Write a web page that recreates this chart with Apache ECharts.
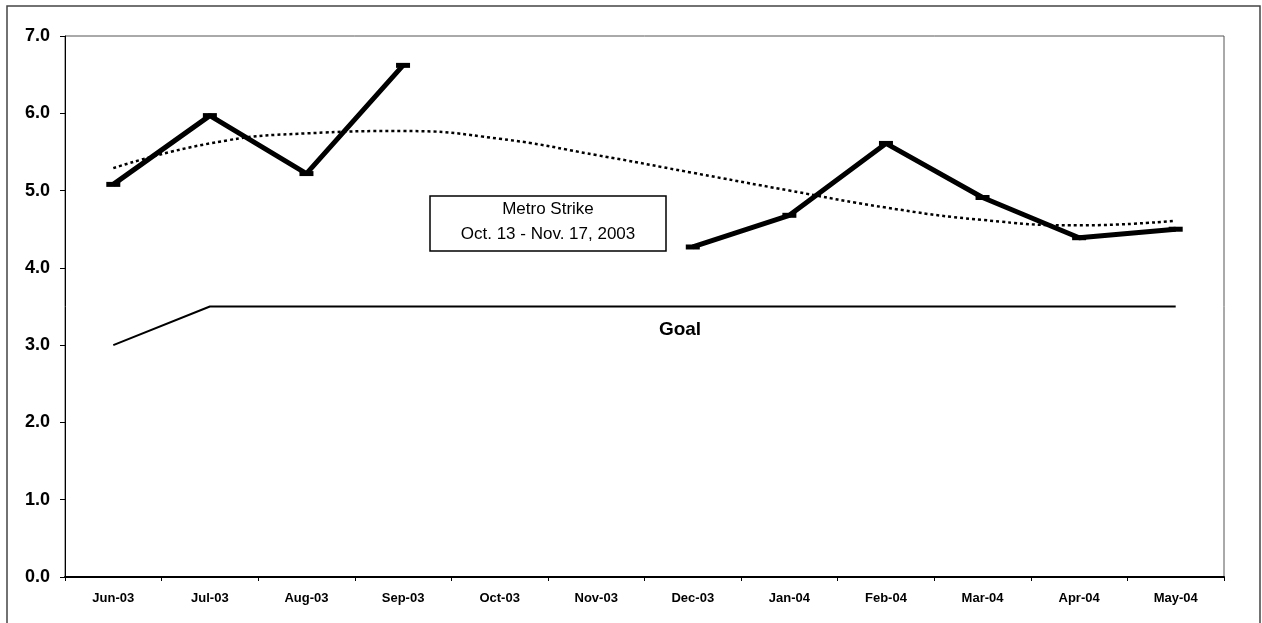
<!DOCTYPE html>
<html>
<head>
<meta charset="utf-8">
<script src="https://cdn.jsdelivr.net/npm/echarts@6/dist/echarts.min.js"></script>
<style>
html,body{margin:0;padding:0;background:#fff;}
#chart{width:1262px;height:623px;}
</style>
</head>
<body>
<div id="chart"></div>
<script>
var categories = ['Jun-03','Jul-03','Aug-03','Sep-03','Oct-03','Nov-03','Dec-03','Jan-04','Feb-04','Mar-04','Apr-04','May-04'];
var actual = [5.08, 5.97, 5.22, 6.62, null, null, 4.27, 4.68, 5.61, 4.91, 4.39, 4.50];
var goal = [3.0, 3.5, 3.5, 3.5, 3.5, 3.5, 3.5, 3.5, 3.5, 3.5, 3.5, 3.5];
var trend = [5.29, 5.61, 5.74, 5.77, 5.67, 5.46, 5.23, 5.00, 4.78, 4.62, 4.55, 4.61];
var yTicks = [0, 1, 2, 3, 4, 5, 6, 7];

var chart = echarts.init(document.getElementById('chart'), null, {renderer: 'canvas'});
chart.setOption({
  animation: false,
  backgroundColor: '#fff',
  grid: {left: 65, right: 38, top: 36, bottom: 46, show: true, borderColor: '#555', borderWidth: 1},
  xAxis: {
    type: 'category',
    data: categories,
    boundaryGap: true,
    axisLine: {lineStyle: {color: '#000', width: 2}},
    axisTick: {show: true, alignWithLabel: false, length: 4, lineStyle: {color: '#000'}},
    axisLabel: {color: '#000', fontFamily: '"Liberation Sans Narrow", "Arial Narrow", "Liberation Sans", sans-serif', fontWeight: 'bold', fontSize: 13, margin: 15}
  },
  yAxis: {
    type: 'value',
    min: yTicks[0], max: yTicks[yTicks.length - 1], interval: 1,
    axisLine: {show: true, lineStyle: {color: '#000', width: 1}},
    axisTick: {show: true, length: 5, lineStyle: {color: '#000'}},
    splitLine: {show: false},
    axisLabel: {color: '#000', fontFamily: '"Liberation Sans", Arial, sans-serif', fontWeight: 'bold', fontSize: 18, margin: 15,
      formatter: function (v) { return v.toFixed(1); }}
  },
  series: [
    {
      name: 'Goal', type: 'line', data: goal, symbol: 'none',
      lineStyle: {color: '#000', width: 2}, z: 2
    },
    {
      name: 'Trend', type: 'line', data: trend, symbol: 'none', smooth: true,
      lineStyle: {color: '#000', width: 2.5, type: [3, 3]}, z: 3
    },
    {
      name: 'Actual', type: 'line', data: actual, connectNulls: false,
      symbol: 'rect', symbolSize: [14, 5], showSymbol: true,
      itemStyle: {color: '#000'},
      lineStyle: {color: '#000', width: 5}, z: 4
    }
  ],
  graphic: [
    {type: 'rect', shape: {x: 7, y: 6, width: 1253, height: 620}, style: {fill: 'none', stroke: '#444', lineWidth: 1.5}, silent: true},
    {type: 'group', children: [
      {type: 'rect', shape: {x: 430, y: 196, width: 236, height: 55}, style: {fill: '#fff', stroke: '#000', lineWidth: 1.5}},
      {type: 'text', x: 548, y: 209, style: {text: 'Metro Strike', fill: '#000', font: '17px "Liberation Sans", Arial, sans-serif', textAlign: 'center', textVerticalAlign: 'middle'}},
      {type: 'text', x: 548, y: 234, style: {text: 'Oct. 13 - Nov. 17, 2003', fill: '#000', font: '17px "Liberation Sans", Arial, sans-serif', textAlign: 'center', textVerticalAlign: 'middle'}}
    ]},
    {type: 'text', x: 680, y: 330, style: {text: 'Goal', fill: '#000', font: 'bold 19px "Liberation Sans", Arial, sans-serif', textAlign: 'center', textVerticalAlign: 'middle'}}
  ]
});
</script>
</body>
</html>
